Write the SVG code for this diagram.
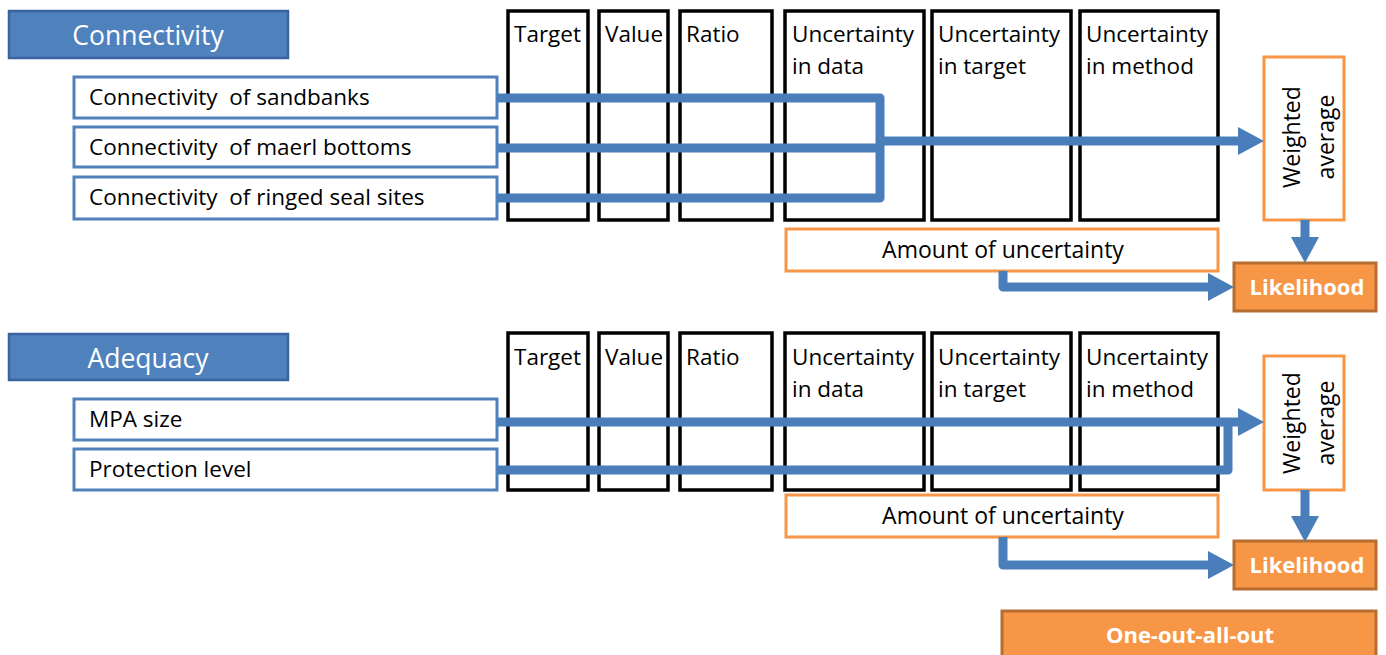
<svg xmlns="http://www.w3.org/2000/svg" width="1386" height="655" viewBox="0 0 1386 655">
  <style>
    text { font-family: "Open Sans", "Liberation Sans", sans-serif; }
    .hdr { fill: #4F81BD; stroke: #3A64A0; stroke-width: 2.5; }
    .hdr-t { fill: #ffffff; font-size: 26.5px; text-anchor: middle; }
    .inp { fill: #ffffff; stroke: #4F81BD; stroke-width: 3; }
    .inp-t { fill: #000000; font-size: 22.5px; white-space: pre; }
    .col { fill: #ffffff; stroke: #000000; stroke-width: 3.5; }
    .col-t { fill: #000000; font-size: 22.5px; }
    .obox { fill: #ffffff; stroke: #F79646; stroke-width: 3; }
    .obox-t { fill: #000000; font-size: 23px; text-anchor: middle; }
    .res { fill: #F79646; stroke: #B66D31; stroke-width: 3; }
    .res-t { fill: #ffffff; font-size: 22px; font-weight: bold; text-anchor: middle; }
    .wire { fill: none; stroke: #4A7EBB; stroke-width: 9; stroke-linejoin: round; }
  </style>
  <defs>
    <marker id="head" markerUnits="userSpaceOnUse" markerWidth="26" markerHeight="28" refX="0" refY="14" orient="auto">
      <path d="M0,0 L26,14 L0,28 z" fill="#4A7EBB"/>
    </marker>
  </defs>

  <rect width="1386" height="655" fill="#ffffff"/>

  <!-- Connectivity block -->
  <g id="hdr-connectivity">
    <rect class="hdr" x="9" y="11" width="279" height="47"/>
    <text class="hdr-t" x="148" y="45">Connectivity</text>
  </g>
  <g id="in-sandbanks">
    <rect class="inp" x="74" y="77" width="423" height="41"/>
    <text class="inp-t" x="89" y="105" xml:space="preserve">Connectivity  of sandbanks</text>
  </g>
  <g id="in-maerl">
    <rect class="inp" x="74" y="127" width="423" height="40"/>
    <text class="inp-t" x="89" y="155" xml:space="preserve">Connectivity  of maerl bottoms</text>
  </g>
  <g id="in-seal">
    <rect class="inp" x="74" y="177" width="423" height="42"/>
    <text class="inp-t" x="89" y="205" xml:space="preserve">Connectivity  of ringed seal sites</text>
  </g>

  <g id="c1-target"><rect class="col" x="508" y="11" width="80" height="209"/><text class="col-t" x="514" y="42">Target</text></g>
  <g id="c1-value"><rect class="col" x="599" y="11" width="69" height="209"/><text class="col-t" x="605" y="42">Value</text></g>
  <g id="c1-ratio"><rect class="col" x="680" y="11" width="92" height="209"/><text class="col-t" x="686" y="42">Ratio</text></g>
  <g id="c1-udata"><rect class="col" x="785" y="11" width="139" height="209"/><text class="col-t" x="792" y="42">Uncertainty</text><text class="col-t" x="792" y="74">in data</text></g>
  <g id="c1-utarget"><rect class="col" x="932" y="11" width="139" height="209"/><text class="col-t" x="938" y="42">Uncertainty</text><text class="col-t" x="938" y="74">in target</text></g>
  <g id="c1-umethod"><rect class="col" x="1080" y="11" width="138" height="209"/><text class="col-t" x="1086" y="42">Uncertainty</text><text class="col-t" x="1086" y="74">in method</text></g>

  <g id="c1-weighted">
    <rect class="obox" x="1264" y="57" width="80" height="163"/>
    <text class="obox-t" transform="translate(1300,137) rotate(-90)">Weighted</text>
    <text class="obox-t" transform="translate(1334,137) rotate(-90)">average</text>
  </g>
  <g id="c1-amount">
    <rect class="obox" x="786" y="229" width="432" height="42"/>
    <text class="obox-t" x="1003" y="258">Amount of uncertainty</text>
  </g>
  <g id="c1-likelihood">
    <rect class="res" x="1234" y="263" width="142" height="48"/>
    <text class="res-t" x="1307" y="295">Likelihood</text>
  </g>

  <!-- Adequacy block -->
  <g id="hdr-adequacy">
    <rect class="hdr" x="9" y="334" width="279" height="46"/>
    <text class="hdr-t" x="148" y="368">Adequacy</text>
  </g>
  <g id="in-mpa">
    <rect class="inp" x="74" y="399" width="423" height="41"/>
    <text class="inp-t" x="89" y="427">MPA size</text>
  </g>
  <g id="in-protection">
    <rect class="inp" x="74" y="449" width="423" height="41"/>
    <text class="inp-t" x="89" y="477">Protection level</text>
  </g>

  <g id="c2-target"><rect class="col" x="508" y="333" width="80" height="157"/><text class="col-t" x="514" y="365">Target</text></g>
  <g id="c2-value"><rect class="col" x="599" y="333" width="69" height="157"/><text class="col-t" x="605" y="365">Value</text></g>
  <g id="c2-ratio"><rect class="col" x="680" y="333" width="92" height="157"/><text class="col-t" x="686" y="365">Ratio</text></g>
  <g id="c2-udata"><rect class="col" x="785" y="333" width="139" height="157"/><text class="col-t" x="792" y="365">Uncertainty</text><text class="col-t" x="792" y="397">in data</text></g>
  <g id="c2-utarget"><rect class="col" x="932" y="333" width="139" height="157"/><text class="col-t" x="938" y="365">Uncertainty</text><text class="col-t" x="938" y="397">in target</text></g>
  <g id="c2-umethod"><rect class="col" x="1080" y="333" width="138" height="157"/><text class="col-t" x="1086" y="365">Uncertainty</text><text class="col-t" x="1086" y="397">in method</text></g>

  <g id="c2-weighted">
    <rect class="obox" x="1264" y="356" width="80" height="134"/>
    <text class="obox-t" transform="translate(1300,423) rotate(-90)">Weighted</text>
    <text class="obox-t" transform="translate(1334,423) rotate(-90)">average</text>
  </g>
  <g id="c2-amount">
    <rect class="obox" x="786" y="495" width="432" height="42"/>
    <text class="obox-t" x="1003" y="524">Amount of uncertainty</text>
  </g>
  <g id="c2-likelihood">
    <rect class="res" x="1234" y="541" width="142" height="48"/>
    <text class="res-t" x="1307" y="573">Likelihood</text>
  </g>

  <g id="one-out-all-out">
    <rect class="res" x="1002" y="611" width="374" height="50"/>
    <text class="res-t" x="1190" y="643">One-out-all-out</text>
  </g>

  <!-- connectors -->
  <g id="connectors">
    <path class="wire" d="M497,98 H880 V198 H497"/>
    <path class="wire" d="M497,148 H880"/>
    <path class="wire" d="M880,141 H1238" marker-end="url(#head)"/>
    <path class="wire" d="M1305,220 V237" marker-end="url(#head)"/>
    <path class="wire" d="M1003,271 V287 H1208" marker-end="url(#head)"/>

    <path class="wire" d="M497,470 H1228 V422"/>
    <path class="wire" d="M497,422 H1238" marker-end="url(#head)"/>
    <path class="wire" d="M1305,490 V516" marker-end="url(#head)"/>
    <path class="wire" d="M1003,537 V565 H1208" marker-end="url(#head)"/>
  </g>
</svg>
